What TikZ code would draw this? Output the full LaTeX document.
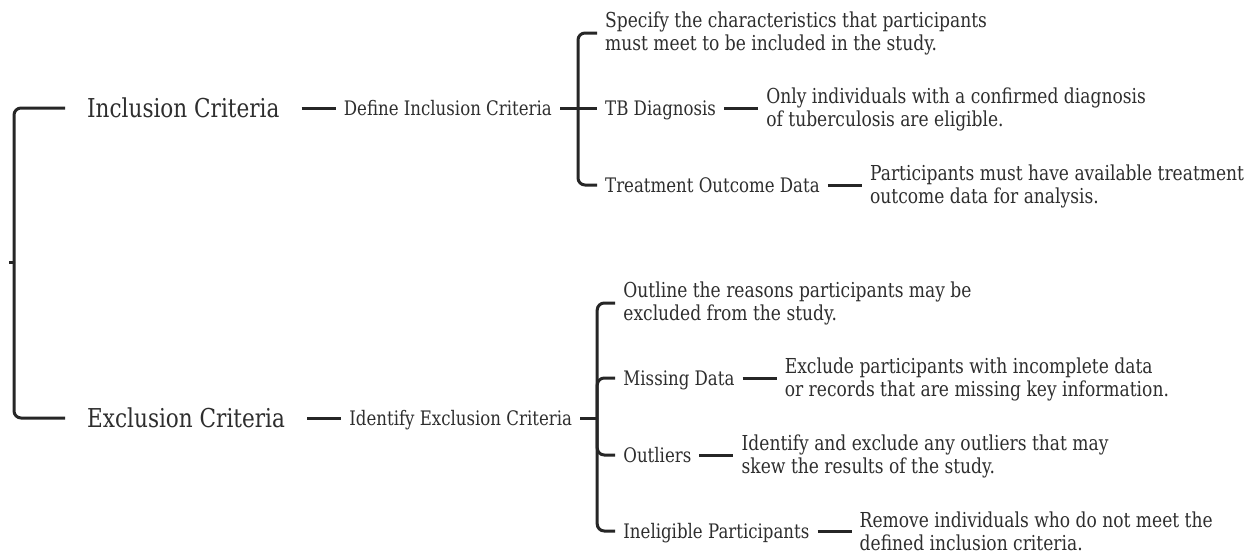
\documentclass[tikz,border=0pt]{standalone}
\usepackage{fontspec}
\setmainfont{DejaVu Serif}[FakeStretch=0.83]
\usetikzlibrary{positioning}
\definecolor{ink}{HTML}{2E2E2E}
\definecolor{wirec}{HTML}{262626}
\begin{document}
\begin{tikzpicture}[x=1pt,y=-1pt,
  wire/.style={draw=wirec,line width=3pt,rounded corners=7pt},
  big/.style={font=\fontsize{26}{30}\selectfont,text=ink,inner xsep=22pt,inner ysep=0pt,anchor=west,text height=19pt,text depth=0pt},
  mid/.style={font=\fontsize{20}{23}\selectfont,text=ink,inner xsep=8pt,inner ysep=0pt,anchor=west,text height=14.5pt,text depth=0pt},
  desc/.style={font=\fontsize{20.6}{23}\selectfont,text=ink,inner xsep=8pt,inner ysep=0pt,anchor=west,align=left,yshift=-1pt},
]
\useasboundingbox (0,0) rectangle (1252,554);
\fill[white] (0,0) rectangle (1252,554);

% root
\coordinate (stub) at (9,262);
\coordinate (j0) at (14,262);
\node[big] (inc) at (65,108) {Inclusion Criteria};
\node[big] (exc) at (65,418) {Exclusion Criteria};
\draw[wire] (stub) -- (j0);
\draw[wire] (j0) |- (inc);
\draw[wire] (j0) |- (exc);

% inclusion branch
\node[mid,right=34pt of inc.east,anchor=west] (def) {Define Inclusion Criteria};
\draw[wire] (inc) -- (def);
\coordinate (j1) at ([xshift=18pt]def.east);
\draw[wire] (def) -- (j1);
\path ([xshift=19pt]j1) coordinate (c1);
\node[desc] (spec) at (c1 |- 0,32) {Specify the characteristics that participants\\must meet to be included in the study.};
\node[mid] (tb) at (c1 |- 0,108) {TB Diagnosis};
\node[mid] (treat) at (c1 |- 0,185) {Treatment Outcome Data};
\node[desc,right=34pt of tb.east,anchor=west] (tbd) {Only individuals with a confirmed diagnosis\\of tuberculosis are eligible.};
\node[desc,right=34pt of treat.east,anchor=west] (treatd) {Participants must have available treatment\\outcome data for analysis.};
\draw[wire] (j1) |- (spec);
\draw[wire] (j1) -- (tb);
\draw[wire] (j1) |- (treat);
\draw[wire] (tb.east) -- (tb.east -| tbd.west);
\draw[wire] (treat.east) -- (treat.east -| treatd.west);

% exclusion branch
\node[mid,right=34pt of exc.east,anchor=west] (idf) {Identify Exclusion Criteria};
\draw[wire] (exc) -- (idf);
\coordinate (j2) at ([xshift=17pt]idf.east);
\draw[wire] (idf) -- (j2);
\path ([xshift=18pt]j2) coordinate (c2);
\node[desc] (outl) at (c2 |- 0,302) {Outline the reasons participants may be\\excluded from the study.};
\node[mid] (miss) at (c2 |- 0,378) {Missing Data};
\node[mid] (outr) at (c2 |- 0,455) {Outliers};
\node[mid] (inel) at (c2 |- 0,531) {Ineligible Participants};
\node[desc,right=34pt of miss.east,anchor=west] (missd) {Exclude participants with incomplete data\\or records that are missing key information.};
\node[desc,right=34pt of outr.east,anchor=west] (outrd) {Identify and exclude any outliers that may\\skew the results of the study.};
\node[desc,right=34pt of inel.east,anchor=west,yshift=1pt] (ineld) {Remove individuals who do not meet the\\defined inclusion criteria.};
\draw[wire] (j2) |- (outl);
\draw[wire] (j2) |- (miss);
\draw[wire] (j2) |- (outr);
\draw[wire] (j2) |- (inel);
\draw[wire] (miss.east) -- (miss.east -| missd.west);
\draw[wire] (outr.east) -- (outr.east -| outrd.west);
\draw[wire] (inel.east) -- (inel.east -| ineld.west);
\end{tikzpicture}
\end{document}
